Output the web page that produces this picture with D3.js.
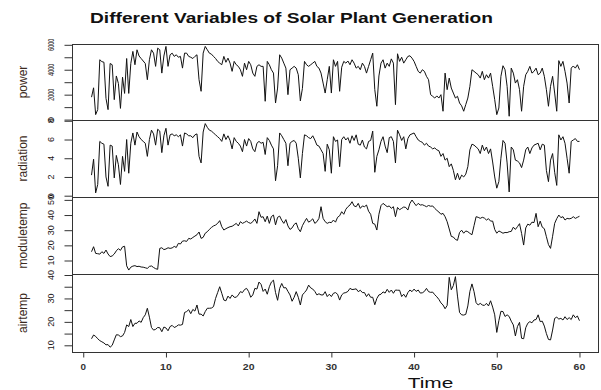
<!DOCTYPE html>
<html>
<head>
<meta charset="utf-8">
<script src="https://cdn.jsdelivr.net/npm/d3@7"></script>
<style>
  html, body { margin: 0; padding: 0; background: #fff; }
  svg { display: block; font-family: "Liberation Sans", Arial, sans-serif; }
</style>
</head>
<body>
<svg id="chart" width="601" height="390"></svg>
<script>
// ---- data (ts starting at 1, frequency 4) ----
const power = [
  1800, 2550, 400, 800,   4800, 4650, 4600, 1700,   800, 4500, 4400, 1600,   3500, 2900, 900, 3400,
  2100, 4900, 2100, 4500, 5470, 4400, 5600, 5100,   4900, 4700, 4500, 3200,  4800, 5600, 5330, 4270,
  5730, 5600, 3730, 5100, 5870, 4270, 5200, 5330,   5070, 5200, 5000, 5070,  4130, 5330, 5330, 5070,
  5000, 4900, 5070, 5200, 3200, 2270, 5330, 5870,   5600, 5330, 5250, 5070,  4900, 4670, 4530, 4400,
  5070, 4600, 4930, 4530, 3870, 4670, 4400, 4270,   4000, 3470, 4530, 4000,  4670, 4400, 3730, 3470,
  4270, 4400, 4270, 4270, 1470, 4670, 4400, 4000,   3730, 1330, 2530, 5200,  4930, 4530, 4130, 2000,
  4000, 4130, 4270, 4130, 3600, 1500, 2500, 4670,   4400, 4270, 4400, 4530,  4670, 4270, 4130, 3730,
  2930, 2130, 3200, 4270, 2130, 4800, 4270, 4670,   2270, 4200, 4670, 4530,  4700, 4400, 4800, 4530,
  4130, 4270, 4000, 4530, 4270, 3730, 4270, 4800,   5330, 2400, 1070, 3500,  4530, 4800, 4130, 4530,
  4270, 4870, 4530, 1200, 5280, 4670, 5000, 4530,   4800, 5070, 5120, 4930,  4670, 4270, 3870, 3730,
  4000, 3870, 3470, 3200, 2000, 1870, 1730, 1900,   1730, 2000, 670, 3730,   2400, 3330, 2530, 2130,
  1730, 1870, 1330, 1100, 670, 1200, 1730, 2670,    4000, 3870, 3730, 3600,  3330, 3870, 3200, 3600,
  3330, 3730, 2670, 1600, 400, 930, 3470, 4320,     4000, 2670, 270, 4130,   3730, 2930, 3200, 2400,
  670, 2670, 3600, 3870,  4270, 3730, 3870, 4130,   3600, 3730, 4130, 3470,  2400, 1070, 2670, 3470,
  2130, 670, 4730, 4270,  4670, 3870, 2930, 1330,   4130, 4300, 4130, 4400,  4000
];
const radiation = [
  2.2, 3.9, 0.3, 1.2,  5.8, 5.6, 5.5, 2.0,  1.0, 5.4, 5.3, 1.9,  4.3, 3.3, 1.2, 4.2,
  2.6, 6.0, 2.4, 5.6,  6.7, 5.4, 6.8, 6.3,  6.0, 5.8, 5.6, 4.2,  6.0, 7.0, 6.6, 5.4,
  7.1, 6.9, 4.6, 6.4,  7.2, 5.4, 6.5, 6.6,  6.4, 6.5, 6.3, 6.5,  5.3, 6.7, 6.6, 6.4,
  6.4, 6.2, 6.5, 6.6,  4.2, 3.5, 6.8, 7.7,  7.3, 7.0, 6.9, 6.7,  6.5, 6.3, 6.1, 5.8,
  6.6, 6.0, 6.4, 5.9,  5.0, 6.2, 5.8, 5.6,  5.3, 4.7, 6.0, 5.3,  6.1, 5.8, 5.0, 4.7,
  5.6, 5.8, 5.6, 5.7,  4.4, 6.2, 5.9, 5.4,  5.0, 1.6, 3.2, 6.7,  6.4, 6.0, 5.6, 3.2,
  5.6, 5.8, 5.9, 5.6,  4.0, 1.9, 4.5, 6.5,  6.4, 6.2, 6.1, 6.4,  5.95, 5.4, 5.3, 4.9,
  4.5, 2.6, 5.5, 4.9,  2.4, 6.3, 5.8, 5.95, 3.1, 6.0, 6.3, 5.95, 6.2, 5.6, 6.4, 5.9,
  6.5, 5.5, 5.4, 5.95, 5.2, 5.0, 5.8, 5.9,  6.9, 2.5, 4.2, 4.9,  5.8, 6.3, 5.3, 4.6,
  6.2, 6.3, 5.8, 3.5,  7.0, 6.5, 5.9, 6.3,  5.0, 6.1, 6.5, 6.6,  6.7, 6.3, 5.95, 5.8,
  5.7, 5.4, 5.6, 5.3,  5.2, 5.0, 5.1, 4.9,  4.8, 4.2, 4.5, 3.8,  4.0, 3.1, 3.4, 2.7,
  1.7, 2.4, 1.7, 2.2,  2.0, 2.3, 3.1, 4.9,  5.5, 5.4, 5.2, 5.0,  4.5, 5.4, 4.8, 5.2,
  4.5, 5.0, 3.6, 2.0,  0.8, 1.5, 4.0, 5.9,  5.6, 3.5, 0.4, 5.2,  4.9, 3.8, 3.7, 3.5,
  3.0, 3.8, 4.9, 5.2,  4.5, 5.1, 5.4, 5.5,  5.6, 4.9, 5.5, 5.4,  2.7, 1.5, 3.8, 4.5,
  2.5, 1.1, 6.5, 5.95, 6.3, 5.6, 4.0, 2.4,  5.8, 5.95, 6.1, 5.8, 5.8
];
const moduletemp = [
  15.8, 19.1, 14.7, 14.5, 14.2, 15.8, 14.7, 16.9, 14.3, 12.6, 13.0, 14.3, 16.4, 17.8, 16.7, 19.0,
  19.4, 6.5, 3.7, 5.6,    6.3, 6.6, 6.0, 6.2,     5.7, 5.6, 5.2, 4.8,     6.1, 6.4, 5.4, 4.6,
  4.2, 18.0, 18.4, 17.2,  17.6, 18.4, 18.0, 18.3, 19.3, 18.6, 21.3, 20.9, 22.8, 23.0, 22.6, 24.6,
  24.2, 25.2, 26.1, 27.0, 28.8, 24.6, 25.3, 28.0, 29.0, 30.5, 31.8, 32.8, 33.4, 34.5, 36.3, 32.3,
  30.1, 31.0, 31.7, 32.3, 32.6, 33.5, 34.5, 32.8, 35.6, 34.5, 35.2, 36.0, 35.0, 34.5, 35.6, 37.4,
  34.5, 42.2, 38.5, 38.9, 35.6, 39.3, 34.5, 39.0, 40.0, 33.5, 38.5, 39.3, 36.5, 34.5, 37.0, 32.8,
  30.5, 31.5, 33.8, 34.8, 31.0, 29.0, 33.0, 35.5, 37.8, 35.3, 36.2, 37.5, 34.5, 35.6, 37.8, 45.5,
  37.8, 35.6, 34.5, 35.2, 35.0, 36.7, 35.3, 38.5, 39.5, 42.2, 40.5, 43.8, 45.5, 46.6, 48.8, 46.0,
  45.5, 47.7, 44.4, 46.0, 45.5, 46.6, 42.5, 40.5, 34.5, 34.0, 30.1, 40.5, 46.2, 47.7, 46.6, 45.5,
  46.0, 44.4, 45.5, 38.9, 45.0, 43.5, 44.4, 45.3, 45.0, 43.3, 47.7, 49.9, 48.0, 46.2, 47.7, 46.6,
  46.8, 46.2, 45.5, 46.3, 45.8, 46.0, 44.4, 43.1, 42.0, 40.5, 41.1, 38.9, 35.6, 30.8, 25.9, 25.5,
  23.9, 23.3, 28.5, 30.0, 28.0, 29.5, 29.0, 27.9, 27.0, 33.0, 38.9, 38.5, 37.8, 38.5, 38.0, 36.7,
  37.6, 36.0, 36.0, 30.5, 28.0, 29.5, 28.8, 28.0, 28.5, 28.4, 29.0, 29.2, 32.0, 30.5, 32.3, 34.3,
  27.9, 20.2, 31.5, 34.0, 33.3, 35.3, 35.0, 41.1, 32.3, 36.0, 32.0, 31.0, 25.7, 20.5, 18.0, 26.0,
  34.5, 37.6, 40.0, 38.3, 38.9, 36.7, 37.8, 37.5, 37.8, 38.9, 37.8, 38.5, 39.2
];
const airtemp = [
  12.8, 14.4, 13.8, 12.8, 12.0, 11.5, 11.0, 10.2, 10.3, 9.2, 10.0, 12.3,  14.5, 14.4, 13.7, 14.0,
  15.5, 18.7, 18.0, 21.0, 18.0, 19.4, 19.4, 20.4, 19.8, 21.8, 23.0, 25.8, 22.0, 17.6, 16.5, 16.8,
  17.6, 17.5, 15.8, 17.8, 17.4, 16.2, 18.0, 18.5, 17.6, 18.0, 18.7, 18.6, 18.9, 24.0, 24.4, 25.2,
  23.5, 25.3, 24.6, 27.2, 23.3, 23.3, 22.5, 24.4, 25.8, 25.8, 25.9, 26.5, 30.0, 32.5, 35.0, 32.2,
  29.3, 29.0, 31.0, 30.0, 31.5, 30.5, 30.5, 31.5, 32.9, 32.5, 33.8, 34.3, 32.9, 30.5, 31.5, 34.3,
  34.0, 37.0, 36.0, 33.0, 34.0, 31.8, 35.0, 37.0, 37.8, 32.5, 29.2, 34.3, 36.4, 34.5, 34.6, 33.0,
  31.5, 28.8, 30.5, 32.9, 30.5, 27.2, 31.5, 32.5, 33.6, 35.7, 34.5, 34.0, 33.0, 31.5, 32.0, 31.5,
  31.5, 32.9, 30.8, 31.8, 30.8, 32.2, 32.5, 31.8, 29.3, 31.5, 32.3, 32.5, 33.0, 34.3, 33.8, 33.9,
  34.1, 32.9, 33.5, 32.5, 32.5, 30.8, 32.0, 30.5, 30.5, 27.3, 30.0, 31.5, 31.8, 32.8, 32.3, 33.9,
  32.6, 33.6, 32.2, 33.6, 33.5, 33.5, 30.8, 31.8, 30.5, 32.5, 33.6, 32.9, 34.0, 33.0, 33.6, 32.3,
  32.4, 33.0, 34.3, 32.9, 32.6, 32.7, 31.6, 30.7, 29.6, 28.1, 27.2, 25.6, 27.0, 39.0, 33.7, 35.5,
  39.3, 31.0, 24.0, 23.0, 22.9, 23.2, 26.8, 33.0, 36.2, 32.9, 28.2, 27.2, 27.9, 27.2, 27.0, 27.9,
  26.8, 29.0, 26.3, 23.0, 15.5, 20.5, 24.5, 24.4, 22.3, 23.0, 22.3, 20.3, 18.7, 14.0, 18.0, 19.8,
  13.0, 12.8, 17.5, 19.4, 20.1, 19.6, 20.8, 21.0, 23.0, 20.1, 20.3, 18.2, 15.0, 12.5, 12.3, 16.5,
  21.5, 22.0, 21.2, 21.5, 20.8, 22.2, 21.0, 21.8, 21.0, 23.0, 21.8, 22.5, 20.5
];
const tsStart = 1, tsFrequency = 4;
const time = d3.range(power.length).map(i => tsStart + i / tsFrequency);

const seriesNames = ["power", "radiation", "moduletemp", "airtemp"];
const seriesValues = [power, radiation, moduletemp, airtemp];
const tickValues = [
  [0, 1000, 2000, 3000, 4000, 5000, 6000],
  [0, 2, 4, 6, 8],
  [10, 20, 30, 40, 50],
  [10, 15, 20, 25, 30, 35, 40]
];
const tickLabels = [
  ["0", "", "2000", "", "4000", "", "6000"],
  ["0", "2", "4", "6", "8"],
  ["10", "20", "30", "40", "50"],
  ["10", "", "20", "", "30", "", "40"]
];
const yDomains = [[-32, 6064], [-0.14, 8.085], [1.1, 51.9], [7.14, 40.43]];
const xTickValues = [0, 10, 20, 30, 40, 50, 60];
const titleText = "Different Variables of Solar Plant Generation";
const xLabelText = "Time";

// ---- layout ----
const svg = d3.select("#chart");
const left = 72, right = 598.5;
const tops = [44, 120, 197, 274];
const bottoms = [120, 197, 274, 352];
const labelColor = "#3b2a20";

const x = d3.scaleLinear().domain([-1.36, 62.36]).range([left, right + 0.5]);

svg.append("text")
  .attr("x", 291.5).attr("y", 23)
  .attr("text-anchor", "middle")
  .attr("font-size", 15.3).attr("font-weight", "bold")
  .attr("textLength", 403).attr("lengthAdjust", "spacingAndGlyphs")
  .attr("fill", "#111")
  .text(titleText);

seriesNames.forEach((name, k) => {
  const y = d3.scaleLinear().domain(yDomains[k]).range([bottoms[k], tops[k]]);
  const g = svg.append("g");

  const line = d3.line().x((d, i) => x(time[i])).y(d => y(d));
  g.append("path")
    .datum(seriesValues[k])
    .attr("d", line)
    .attr("fill", "none")
    .attr("stroke", "#111")
    .attr("stroke-width", 1)
    .attr("stroke-linejoin", "round");

  g.append("rect")
    .attr("x", left + 0.5).attr("y", tops[k] + 0.5)
    .attr("width", right - left - 0.5).attr("height", bottoms[k] - tops[k])
    .attr("fill", "none").attr("stroke", "#333").attr("stroke-width", 1);

  const ax = d3.axisLeft(y).tickValues(tickValues[k]).tickSize(8).tickSizeOuter(0).tickFormat("");
  const ag = g.append("g").attr("transform", `translate(${left + 0.5},0)`).call(ax);
  ag.select(".domain").remove();
  ag.selectAll(".tick line").attr("stroke", "#333");

  g.selectAll("text.ytl")
    .data(tickValues[k].map((v, i) => ({ v, lab: tickLabels[k][i] })).filter(d => d.lab !== ""))
    .join("text")
    .attr("class", "ytl")
    .attr("transform", d => `translate(53.5,${y(d.v)}) rotate(-90)`)
    .attr("text-anchor", "middle")
    .attr("font-size", 9)
    .attr("fill", "#1a1414")
    .each(function (d) {
      if (d.lab.length >= 3) d3.select(this).attr("textLength", 12).attr("lengthAdjust", "spacingAndGlyphs");
    })
    .text(d => d.lab);

  g.append("text")
    .attr("transform", `translate(27,${(tops[k] + bottoms[k]) / 2}) rotate(-90)`)
    .attr("text-anchor", "middle")
    .attr("font-size", 12)
    .attr("fill", labelColor)
    .text(name);
});

const xa = d3.axisBottom(x).tickValues(xTickValues).tickSize(5).tickSizeOuter(0).tickFormat("");
const xg = svg.append("g").attr("transform", `translate(0,${bottoms[3] + 0.5})`).call(xa);
xg.select(".domain").remove();
xg.selectAll(".tick line").attr("stroke", "#333");

svg.selectAll("text.xtl")
  .data(xTickValues)
  .join("text")
  .attr("class", "xtl")
  .attr("x", d => x(d)).attr("y", 369.5)
  .attr("text-anchor", "middle")
  .attr("font-size", 8.5)
  .attr("font-weight", "bold")
  .attr("fill", "#333")
  .each(function (d) {
    const s = String(d);
    d3.select(this).attr("textLength", s.length === 1 ? 5.5 : 11.7).attr("lengthAdjust", "spacingAndGlyphs");
  })
  .text(d => String(d));

svg.append("text")
  .attr("x", 430.5).attr("y", 388)
  .attr("text-anchor", "middle")
  .attr("font-size", 15)
  .attr("textLength", 45.6).attr("lengthAdjust", "spacingAndGlyphs")
  .attr("fill", "#111")
  .text(xLabelText);
</script>
</body>
</html>
